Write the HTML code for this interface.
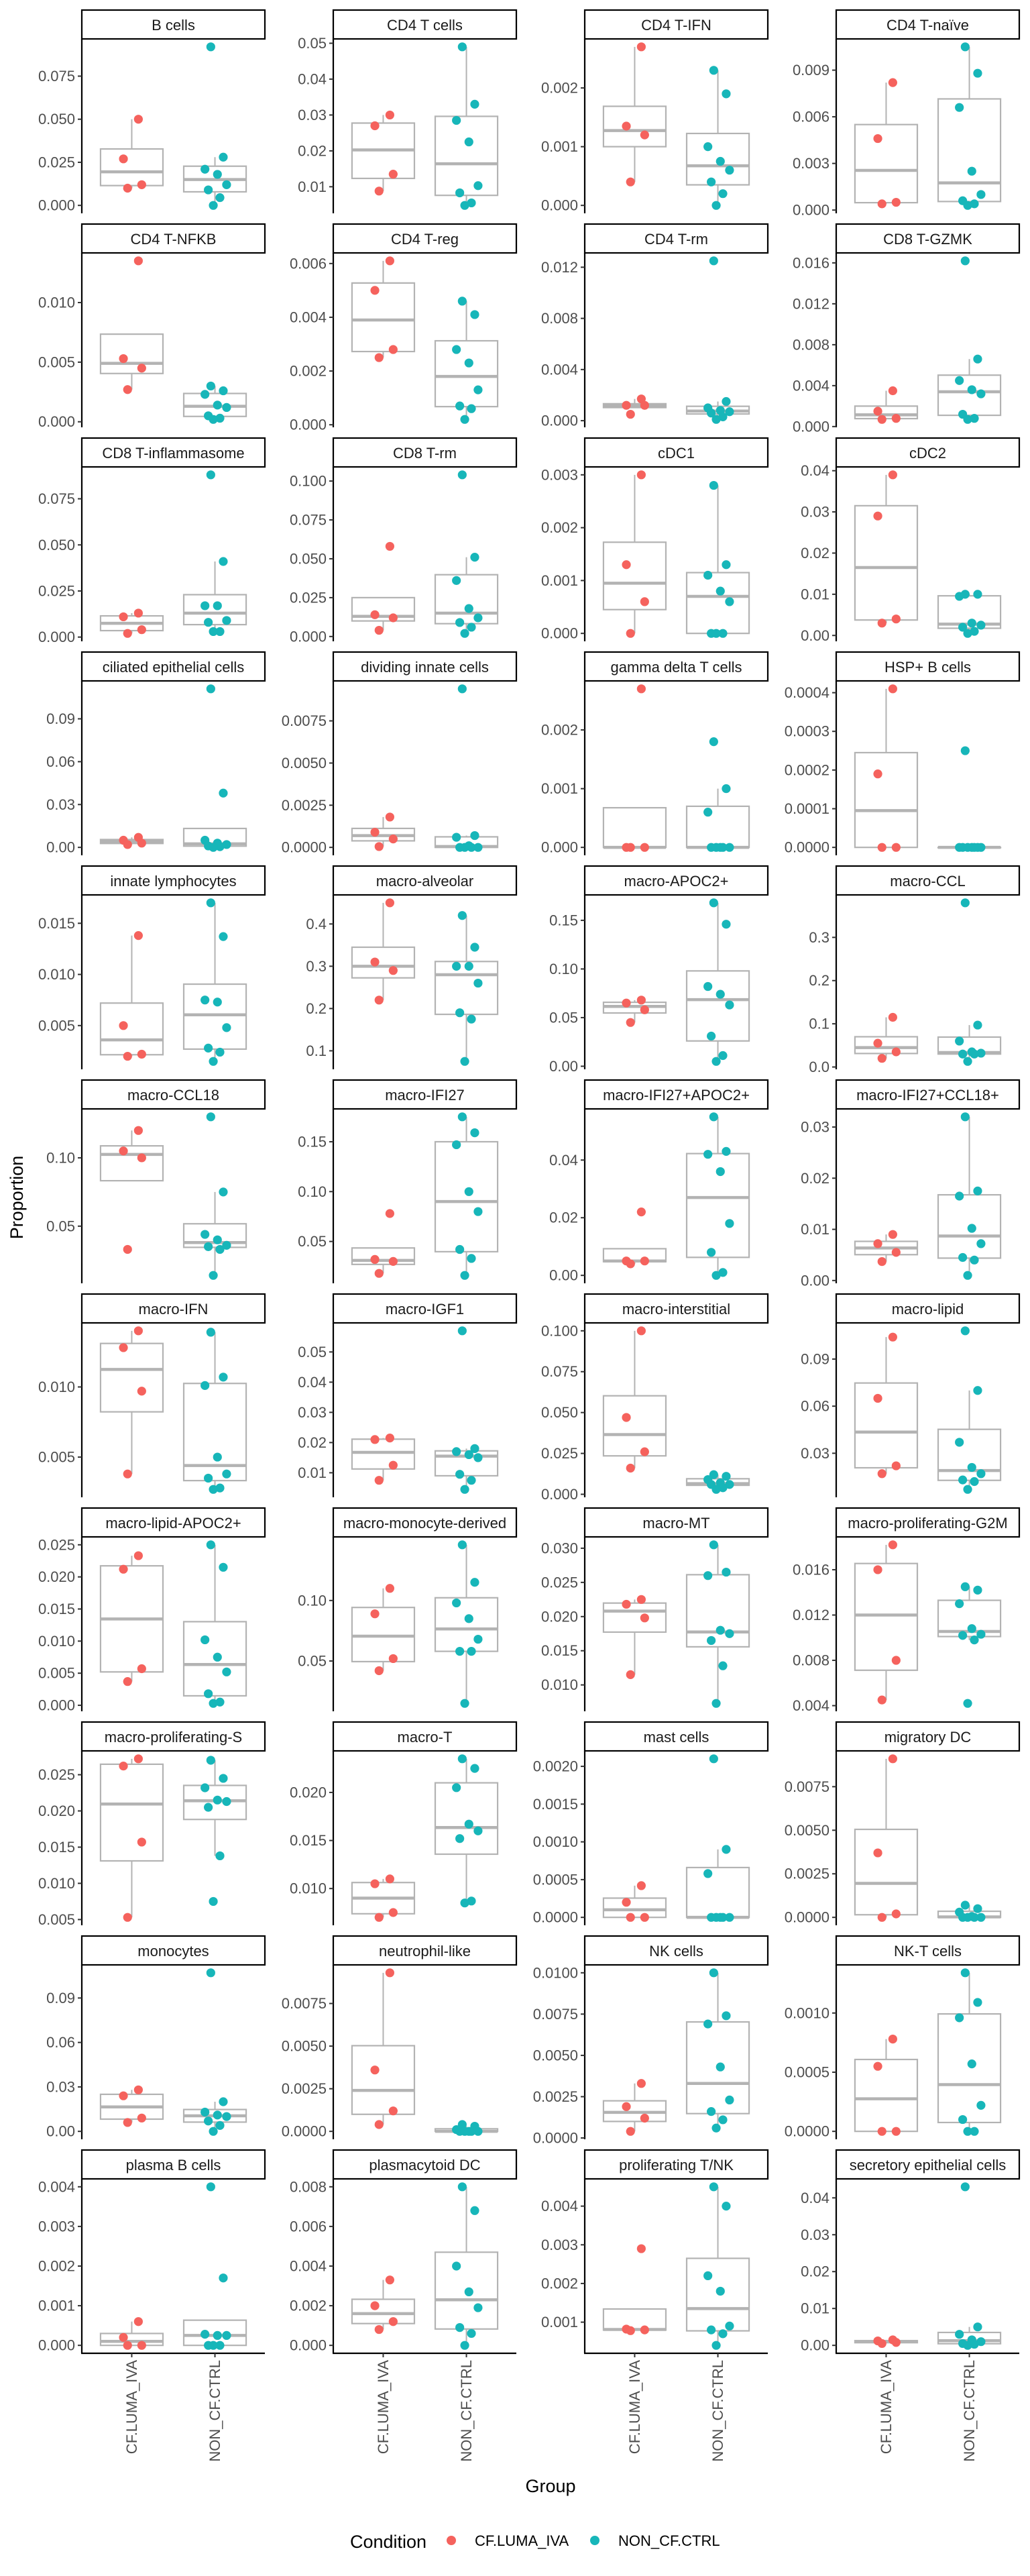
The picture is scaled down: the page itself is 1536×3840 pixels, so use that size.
<!DOCTYPE html>
<html><head><meta charset="utf-8"><title>Proportion by Group</title>
<style>
html,body{margin:0;padding:0;background:#fff;}
svg{display:block;font-family:"Liberation Sans",sans-serif;}
</style></head>
<body>
<svg id="chart" width="1536" height="3840" viewBox="0 0 1536 3840" xmlns="http://www.w3.org/2000/svg">
<rect x="0" y="0" width="1536" height="3840" fill="#fff"/>
<g id="panels"></g>
<text x="25" y="1785" transform="rotate(-90 25 1785)" text-anchor="middle" dominant-baseline="central" font-size="27" fill="#000">Proportion</text>
<text x="821" y="3715" text-anchor="middle" font-size="27" fill="#000">Group</text>
<g>
<text x="522" y="3798" font-size="27" fill="#000">Condition</text>
<g>
<circle cx="673" cy="3787" r="7" fill="#F5625D"/>
<text x="708" y="3795" font-size="22" fill="#000">CF.LUMA_IVA</text>
</g>
<g>
<circle cx="887" cy="3787" r="7" fill="#17B6B9"/>
<text x="922" y="3795" font-size="22" fill="#000">NON_CF.CTRL</text>
</g>
</g>
</svg>
<script>
const categories = ["CF.LUMA_IVA", "NON_CF.CTRL"];
const panelNames = ["B cells","CD4 T cells","CD4 T-IFN","CD4 T-naïve","CD4 T-NFKB","CD4 T-reg","CD4 T-rm","CD8 T-GZMK","CD8 T-inflammasome","CD8 T-rm","cDC1","cDC2","ciliated epithelial cells","dividing innate cells","gamma delta T cells","HSP+ B cells","innate lymphocytes","macro-alveolar","macro-APOC2+","macro-CCL","macro-CCL18","macro-IFI27","macro-IFI27+APOC2+","macro-IFI27+CCL18+","macro-IFN","macro-IGF1","macro-interstitial","macro-lipid","macro-lipid-APOC2+","macro-monocyte-derived","macro-MT","macro-proliferating-G2M","macro-proliferating-S","macro-T","mast cells","migratory DC","monocytes","neutrophil-like","NK cells","NK-T cells","plasma B cells","plasmacytoid DC","proliferating T/NK","secretory epithelial cells"];
const cfValues = [
[0.050,0.027,0.012,0.010],[0.030,0.027,0.0135,0.0088],[0.0027,0.00135,0.0012,0.0004],[0.0082,0.0046,0.0005,0.0004],
[0.0135,0.0053,0.0045,0.0027],[0.0061,0.005,0.0028,0.0025],[0.0017,0.0012,0.0012,0.0005],[0.0035,0.0015,0.0008,0.0007],
[0.013,0.011,0.004,0.002],[0.058,0.014,0.012,0.004],[0.003,0.0013,0.0006,0.0],[0.039,0.029,0.004,0.003],
[0.007,0.005,0.003,0.002],[0.0018,0.0009,0.0005,0.00005],[0.0027,0,0,0],[0.00041,0.00019,0,0],
[0.0138,0.005,0.0022,0.002],[0.45,0.31,0.29,0.22],[0.068,0.065,0.058,0.045],[0.115,0.055,0.035,0.02],
[0.12,0.105,0.10,0.033],[0.078,0.032,0.03,0.018],[0.022,0.005,0.005,0.004],[0.009,0.0072,0.0055,0.0037],
[0.014,0.0128,0.0097,0.0038],[0.0215,0.021,0.0125,0.0075],[0.1,0.047,0.026,0.016],[0.104,0.065,0.022,0.017],
[0.0233,0.0212,0.0057,0.0037],[0.11,0.089,0.052,0.042],[0.0225,0.0218,0.0198,0.0115],[0.0182,0.016,0.008,0.0045],
[0.0272,0.0262,0.0157,0.0053],[0.011,0.0105,0.0075,0.007],[0.00042,0.0002,0,0],[0.0091,0.0037,0.0002,0],
[0.028,0.024,0.009,0.006],[0.0093,0.0036,0.0012,0.0004],[0.0033,0.0019,0.0012,0.0004],[0.00078,0.00055,0,0],
[0.0006,0.0002,0,0],[0.0033,0.002,0.0012,0.0008],[0.0029,0.00082,0.0008,0.00078],[0.0015,0.0012,0.0008,0.0005]
];
const nonValues = [
[0.092,0.028,0.021,0.018,0.012,0.009,0.0045,0.0],[0.049,0.033,0.0285,0.0225,0.0103,0.0083,0.0055,0.0048],[0.0023,0.0019,0.001,0.00075,0.0006,0.0004,0.0002,0.0],[0.0105,0.0088,0.0066,0.0025,0.0010,0.0006,0.0004,0.0003],
[0.003,0.0026,0.0023,0.0014,0.0012,0.0005,0.0003,0.0002],[0.0046,0.0041,0.0028,0.0023,0.0013,0.0007,0.0006,0.0002],[0.0125,0.0015,0.001,0.0008,0.0007,0.0006,0.0003,0.0001],[0.0162,0.0066,0.0045,0.0036,0.0032,0.0012,0.0008,0.0007],
[0.088,0.041,0.017,0.017,0.009,0.008,0.003,0.003],[0.104,0.051,0.036,0.018,0.012,0.009,0.006,0.002],[0.0028,0.0013,0.0011,0.0008,0.0006,0,0,0],[0.010,0.010,0.0095,0.003,0.0025,0.002,0.001,0.0005],
[0.111,0.038,0.005,0.003,0.002,0.001,0.0005,0.0],[0.0094,0.0007,0.0006,0.0001,0,0,0,0],[0.0018,0.001,0.0006,0,0,0,0,0],[0.00025,0,0,0,0,0,0,0],
[0.017,0.0137,0.0075,0.0073,0.0048,0.0028,0.0024,0.0015],[0.42,0.345,0.30,0.30,0.26,0.19,0.175,0.075],[0.168,0.146,0.082,0.074,0.063,0.031,0.011,0.005],[0.38,0.097,0.06,0.035,0.032,0.03,0.03,0.013],
[0.13,0.075,0.044,0.04,0.036,0.035,0.033,0.014],[0.175,0.159,0.147,0.10,0.08,0.042,0.033,0.016],[0.055,0.043,0.042,0.036,0.018,0.008,0.001,0.0],[0.032,0.0175,0.0165,0.0102,0.0072,0.0045,0.004,0.001],
[0.0139,0.0107,0.0101,0.005,0.0038,0.0035,0.0028,0.0027],[0.057,0.018,0.017,0.016,0.015,0.0095,0.0075,0.0045],[0.012,0.011,0.009,0.007,0.006,0.006,0.004,0.003],[0.108,0.07,0.037,0.021,0.017,0.013,0.012,0.007],
[0.025,0.0215,0.0102,0.0075,0.0052,0.0018,0.0005,0.0003],[0.146,0.115,0.098,0.085,0.068,0.058,0.058,0.015],[0.0305,0.0265,0.026,0.018,0.0175,0.0165,0.0128,0.0073],[0.0145,0.0142,0.013,0.0108,0.0103,0.0102,0.0098,0.0042],
[0.027,0.0245,0.0232,0.0215,0.0213,0.0205,0.0138,0.0075],[0.0235,0.0225,0.0205,0.0167,0.016,0.0152,0.0087,0.0085],[0.0021,0.0009,0.00058,0,0,0,0,0],[0.0007,0.0005,0.0003,0.00005,0,0,0,0],
[0.107,0.02,0.013,0.011,0.01,0.007,0.004,0.0],[0.0004,0.0003,0.0001,0,0,0,0,0],[0.01,0.0074,0.0069,0.0043,0.0023,0.0016,0.0011,0.0006],[0.00134,0.00109,0.00096,0.00057,0.00022,0.0001,0,0],
[0.004,0.0017,0.00028,0.00025,0.00025,0,0,0],[0.008,0.0068,0.004,0.0027,0.0019,0.0009,0.0006,0.0],[0.0045,0.004,0.0022,0.0018,0.0009,0.0008,0.0007,0.0004],[0.043,0.005,0.003,0.0015,0.001,0.0005,0.0003,0.0]
];
const tickLabels = [
["0.000","0.025","0.050","0.075"],["0.01","0.02","0.03","0.04","0.05"],["0.000","0.001","0.002"],["0.000","0.003","0.006","0.009"],
["0.000","0.005","0.010"],["0.000","0.002","0.004","0.006"],["0.000","0.004","0.008","0.012"],["0.000","0.004","0.008","0.012","0.016"],
["0.000","0.025","0.050","0.075"],["0.000","0.025","0.050","0.075","0.100"],["0.000","0.001","0.002","0.003"],["0.00","0.01","0.02","0.03","0.04"],
["0.00","0.03","0.06","0.09"],["0.0000","0.0025","0.0050","0.0075"],["0.000","0.001","0.002"],["0.0000","0.0001","0.0002","0.0003","0.0004"],
["0.005","0.010","0.015"],["0.1","0.2","0.3","0.4"],["0.00","0.05","0.10","0.15"],["0.0","0.1","0.2","0.3"],
["0.05","0.10"],["0.05","0.10","0.15"],["0.00","0.02","0.04"],["0.00","0.01","0.02","0.03"],
["0.005","0.010"],["0.01","0.02","0.03","0.04","0.05"],["0.000","0.025","0.050","0.075","0.100"],["0.03","0.06","0.09"],
["0.000","0.005","0.010","0.015","0.020","0.025"],["0.05","0.10"],["0.010","0.015","0.020","0.025","0.030"],["0.004","0.008","0.012","0.016"],
["0.005","0.010","0.015","0.020","0.025"],["0.010","0.015","0.020"],["0.0000","0.0005","0.0010","0.0015","0.0020"],["0.0000","0.0025","0.0050","0.0075"],
["0.00","0.03","0.06","0.09"],["0.0000","0.0025","0.0050","0.0075"],["0.0000","0.0025","0.0050","0.0075","0.0100"],["0.0000","0.0005","0.0010"],
["0.000","0.001","0.002","0.003","0.004"],["0.000","0.002","0.004","0.006","0.008"],["0.001","0.002","0.003","0.004"],["0.00","0.01","0.02","0.03","0.04"]
];
const cfJitter = [0.08,-0.1,0.12,-0.05];
const nonJitter = [-0.05,0.1,-0.12,0.03,0.14,-0.08,0.06,-0.02];

const NS = "http://www.w3.org/2000/svg";
const COLORS = ["#F5625D","#17B6B9"];
const LEFT0 = 122, COLP = 375, PW = 273, TOP0 = 15, ROWP = 319, SH = 43, PH = 260, NCOL = 4;
const nRows = Math.ceil(panelNames.length / NCOL);
function mk(tag, attrs, parent){ const e = document.createElementNS(NS, tag); for (const k in attrs) e.setAttribute(k, attrs[k]); parent.appendChild(e); return e; }
function quantile(s, p){ const h = (s.length - 1) * p, lo = Math.floor(h), hi = Math.ceil(h); return s[lo] + (h - lo) * (s[hi] - s[lo]); }
function boxStats(v){
  const s = v.slice().sort((a,b)=>a-b);
  const q1 = quantile(s,0.25), med = quantile(s,0.5), q3 = quantile(s,0.75), iqr = q3 - q1;
  const lo = Math.min(...s.filter(x => x >= q1 - 1.5*iqr)), hi = Math.max(...s.filter(x => x <= q3 + 1.5*iqr));
  return {q1, med, q3, lo, hi};
}
const root = document.getElementById("panels");
panelNames.forEach((name, i) => {
  const col = i % NCOL, row = Math.floor(i / NCOL);
  const left = LEFT0 + col * COLP, stripTop = TOP0 + row * ROWP, top = stripTop + SH, bottom = top + PH;
  const g = mk("g", {}, root);
  
  
  const all = cfValues[i].concat(nonValues[i]);
  const dmin = Math.min(...all), dmax = Math.max(...all), pad = (dmax - dmin) * 0.05 || 0.001;
  const y0 = dmin - pad, y1 = dmax + pad;
  const yScale = v => bottom - (v - y0) / (y1 - y0) * PH;
  const unit = PW / 2.2;
  const xScale = c => left + (0.6 + c) * unit;
  // strip
  const strip = mk("rect", {x: left, y: stripTop, width: PW, height: SH, fill: "#fff", stroke: "#000", "stroke-width": 2.2}, g);
  
  
  const st = mk("text", {x: left + PW/2, y: stripTop + SH/2 + 1, "text-anchor": "middle", "dominant-baseline": "central", "font-size": 22, fill: "#1a1a1a"}, g);
  st.textContent = name;
  
  
  // y axis
  const ya = mk("line", {x1: left, y1: top, x2: left, y2: bottom, stroke: "#000", "stroke-width": 2.2}, g);
  
  
  tickLabels[i].forEach(lab => {
    const v = parseFloat(lab), y = yScale(v);
    const tk = mk("line", {x1: left - 6, y1: y, x2: left, y2: y, stroke: "#333", "stroke-width": 2}, g);
    
    
    const tl = mk("text", {x: left - 10, y: y, "text-anchor": "end", "dominant-baseline": "central", "font-size": 22, fill: "#4d4d4d"}, g);
    tl.textContent = lab;
    
    
  });
  // boxes
  [cfValues[i], nonValues[i]].forEach((vals, c) => {
    const b = boxStats(vals), cx = xScale(c), bw = 0.75 * unit;
    const wh = mk("line", {x1: cx, y1: yScale(b.lo), x2: cx, y2: yScale(b.hi), stroke: "#b3b3b3", "stroke-width": 2}, g);
    
    
    const bx = mk("rect", {x: cx - bw/2, y: yScale(b.q3), width: bw, height: Math.max(0.5, yScale(b.q1) - yScale(b.q3)), fill: "#fff", stroke: "#b3b3b3", "stroke-width": 2.2}, g);
    
    
    const md = mk("line", {x1: cx - bw/2, y1: yScale(b.med), x2: cx + bw/2, y2: yScale(b.med), stroke: "#b3b3b3", "stroke-width": 4.5}, g);
    
    
  });
  // points
  [cfValues[i], nonValues[i]].forEach((vals, c) => {
    const jit = c === 0 ? cfJitter : nonJitter;
    vals.forEach((v, k) => {
      const p = mk("circle", {cx: xScale(c) + jit[k % jit.length] * unit, cy: yScale(v), r: 6.6, fill: COLORS[c]}, g);
      
      
    });
  });
  // x axis for bottom row
  if (row === nRows - 1) {
    const xa = mk("line", {x1: left - 1, y1: bottom, x2: left + PW, y2: bottom, stroke: "#000", "stroke-width": 2.2}, g);
    
    
    categories.forEach((cat, c) => {
      const cx = xScale(c);
      const tk = mk("line", {x1: cx, y1: bottom, x2: cx, y2: bottom + 6, stroke: "#333", "stroke-width": 2}, g);
      
      
      const ty = bottom + 10;
      const tl = mk("text", {x: cx, y: ty, transform: `rotate(-90 ${cx} ${ty})`, "text-anchor": "end", "dominant-baseline": "central", "font-size": 22, fill: "#4d4d4d"}, g);
      tl.textContent = cat;
      
      
    });
  }
});
</script>
</body></html>
